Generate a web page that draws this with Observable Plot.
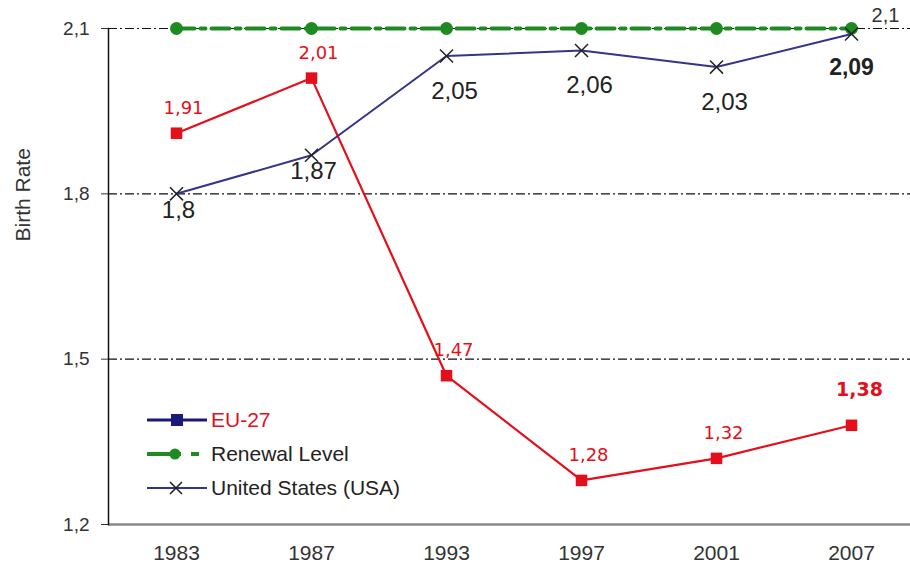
<!DOCTYPE html>
<html>
<head>
<meta charset="utf-8">
<script src="https://cdn.jsdelivr.net/npm/d3@7"></script>
<script src="https://cdn.jsdelivr.net/npm/@observablehq/plot@0.6"></script>
<style>
  html, body { margin: 0; padding: 0; background: #fff; }
  #wrap { position: relative; width: 910px; height: 565px; font-family: "Liberation Sans", Arial, sans-serif; }
  #legend { position: absolute; left: 145px; top: 403px; font-size: 21px; color: #222; }
  #legend .row { display: flex; align-items: center; height: 34px; }
  #legend svg { margin-right: 2px; }
</style>
</head>
<body>
<div id="wrap">
  <div id="chart"></div>
  <div id="legend"></div>
</div>
<script>
const years = ["1983", "1987", "1993", "1997", "2001", "2007"];
const eu27 = [1.91, 2.01, 1.47, 1.28, 1.32, 1.38];
const usa = [1.80, 1.87, 2.05, 2.06, 2.03, 2.09];
const renewal = [2.1, 2.1, 2.1, 2.1, 2.1, 2.1];
const yTicks = [1.2, 1.5, 1.8, 2.1];
const gridValues = [1.5, 1.8, 2.1];
const seriesNames = ["EU-27", "Renewal Level", "United States (USA)"];

const RED = "#e3101b", NAVY = "#34348a", GREEN = "#1f8a22";
const fmt = d => String(d).replace(".", ",");

const euData = years.map((y, i) => ({year: y, v: eu27[i]}));
const usData = years.map((y, i) => ({year: y, v: usa[i]}));
const rnData = years.map((y, i) => ({year: y, v: renewal[i]}));
const last = years.length - 1;

const chart = Plot.plot({
  width: 910,
  height: 565,
  marginLeft: 108,
  marginRight: 0,
  marginTop: 28,
  marginBottom: 41,
  style: {fontFamily: "Liberation Sans, Arial, sans-serif", background: "white"},
  x: {type: "point", domain: years, range: [175, 852], padding: 0},
  y: {domain: [1.2, 2.1], range: [524, 28]},
  marks: [
    Plot.ruleY(gridValues, {stroke: "#111", strokeWidth: 1.2, strokeDasharray: "9,3,2,3"}),
    Plot.ruleY([1.2], {stroke: "#8a8a8a", strokeWidth: 2.5}),
    Plot.frame({anchor: "left", stroke: "#111", strokeWidth: 1.5}),
    Plot.axisY({ticks: yTicks, tickFormat: fmt, tickSize: 7, tickPadding: 12, fontSize: 19, color: "#333", label: null}),
    Plot.text(["Birth Rate"], {frameAnchor: "left", dx: -85, dy: -35, rotate: -90, fontSize: 21, fill: "#333"}),
    Plot.axisX({tickSize: 0, tickPadding: 21, fontSize: 21, color: "#333", label: null}),
    // Renewal level
    Plot.line(rnData, {x: "year", y: "v", stroke: GREEN, strokeWidth: 4, strokeDasharray: "18,6,5,6"}),
    Plot.dot(rnData, {x: "year", y: "v", r: 6.5, fill: GREEN}),
    Plot.text([rnData[last]], {x: "year", y: "v", text: d => fmt(d.v), dx: 34, dy: -13, fontSize: 20, fill: "#333"}),
    // EU-27
    Plot.line(euData, {x: "year", y: "v", stroke: RED, strokeWidth: 2.2}),
    Plot.dot(euData, {x: "year", y: "v", symbol: "square", r: 6.5, fill: RED}),
    Plot.text(euData.slice(0, last), {x: "year", y: "v", text: d => fmt(d.v), dy: -25, dx: 7, fontSize: 18, fill: RED, fontFamily: "DejaVu Sans"}),
    Plot.text([euData[last]], {x: "year", y: "v", text: d => fmt(d.v), dy: -35, dx: 8, fontSize: 19, fontWeight: "bold", fill: RED, fontFamily: "DejaVu Sans"}),
    // USA
    Plot.line(usData, {x: "year", y: "v", stroke: NAVY, strokeWidth: 2}),
    Plot.dot(usData, {x: "year", y: "v", symbol: "times", r: 6, stroke: "#222", strokeWidth: 1.5}),
    Plot.text(usData.slice(0, 2), {x: "year", y: "v", text: d => fmt(d.v), dy: 16, dx: 2, fontSize: 24, fill: "#222"}),
    Plot.text(usData.slice(2, last), {x: "year", y: "v", text: d => fmt(d.v), dy: 35, dx: 8, fontSize: 24, fill: "#222"}),
    Plot.text([usData[last]], {x: "year", y: "v", text: d => fmt(d.v), dy: 34, dx: 0, fontSize: 23, fontWeight: "bold", fill: "#222"})
  ]
});
document.getElementById("chart").appendChild(chart);

// Legend
const legendSamples = [
  `<line x1="2" y1="10" x2="62" y2="10" stroke="#1a1a7a" stroke-width="3"/><rect x="26" y="4" width="12" height="12" fill="#1a1a7a"/>`,
  `<line x1="2" y1="10" x2="36" y2="10" stroke="${GREEN}" stroke-width="4"/><line x1="46" y1="10" x2="54" y2="10" stroke="${GREEN}" stroke-width="4"/><circle cx="30" cy="10" r="5.5" fill="${GREEN}"/>`,
  `<line x1="2" y1="10" x2="62" y2="10" stroke="${NAVY}" stroke-width="2"/><path d="M25,4L37,16M37,4L25,16" stroke="#222" stroke-width="1.6"/>`
];
const legendColors = [RED, "#222", "#222"];
const lg = document.getElementById("legend");
seriesNames.forEach((name, i) => {
  const row = document.createElement("div");
  row.className = "row";
  row.innerHTML = `<svg width="64" height="20">${legendSamples[i]}</svg><span style="color:${legendColors[i]}">${name}</span>`;
  lg.appendChild(row);
});
</script>
</body>
</html>
